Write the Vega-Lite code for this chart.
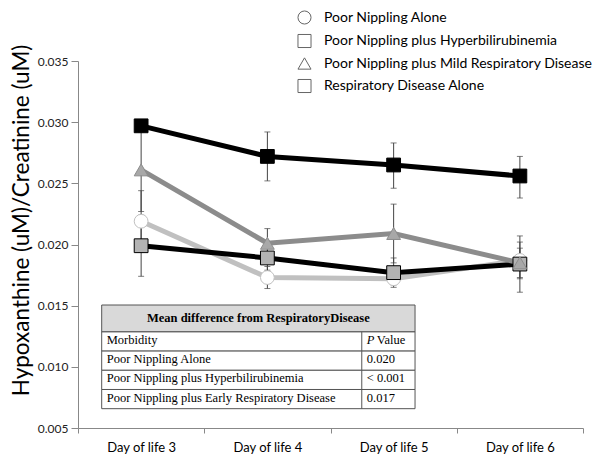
{
  "$schema": "https://vega.github.io/schema/vega-lite/v6.json",
  "autosize": "none",
  "width": 505,
  "height": 367,
  "padding": {"left": 78, "top": 61, "right": 19, "bottom": 35},
  "background": "white",
  "config": {"view": {"stroke": null}, "font": "Lato"},
  "datasets": {
    "series": [
      {"day": "Day of life 3", "group": "Poor Nippling Alone", "value": 0.0219, "lo": 0.0194, "hi": 0.0244},
      {"day": "Day of life 4", "group": "Poor Nippling Alone", "value": 0.0173, "lo": 0.0164, "hi": 0.0182},
      {"day": "Day of life 5", "group": "Poor Nippling Alone", "value": 0.0172, "lo": 0.0167, "hi": 0.0177},
      {"day": "Day of life 6", "group": "Poor Nippling Alone", "value": 0.0187, "lo": 0.0172, "hi": 0.0202},
      {"day": "Day of life 3", "group": "Poor Nippling plus Hyperbilirubinemia", "value": 0.0199, "lo": 0.0174, "hi": 0.0224},
      {"day": "Day of life 4", "group": "Poor Nippling plus Hyperbilirubinemia", "value": 0.0189, "lo": 0.0179, "hi": 0.0199},
      {"day": "Day of life 5", "group": "Poor Nippling plus Hyperbilirubinemia", "value": 0.0177, "lo": 0.0165, "hi": 0.0189},
      {"day": "Day of life 6", "group": "Poor Nippling plus Hyperbilirubinemia", "value": 0.0184, "lo": 0.0161, "hi": 0.0207},
      {"day": "Day of life 3", "group": "Poor Nippling plus Mild Respiratory Disease", "value": 0.0261, "lo": 0.0227, "hi": 0.0295},
      {"day": "Day of life 4", "group": "Poor Nippling plus Mild Respiratory Disease", "value": 0.0201, "lo": 0.0189, "hi": 0.0213},
      {"day": "Day of life 5", "group": "Poor Nippling plus Mild Respiratory Disease", "value": 0.0209, "lo": 0.0185, "hi": 0.0233},
      {"day": "Day of life 6", "group": "Poor Nippling plus Mild Respiratory Disease", "value": 0.0185, "lo": 0.0173, "hi": 0.0197},
      {"day": "Day of life 3", "group": "Respiratory Disease Alone", "value": 0.0297, "lo": 0.0292, "hi": 0.0302},
      {"day": "Day of life 4", "group": "Respiratory Disease Alone", "value": 0.0272, "lo": 0.0252, "hi": 0.0292},
      {"day": "Day of life 5", "group": "Respiratory Disease Alone", "value": 0.0265, "lo": 0.0246, "hi": 0.0283},
      {"day": "Day of life 6", "group": "Respiratory Disease Alone", "value": 0.0256, "lo": 0.0238, "hi": 0.0272}
    ],
    "tableRows": [
      {"kind": "header", "r0": 0, "r1": 1.4, "morb": "Mean difference from RespiratoryDisease", "p": ""},
      {"kind": "body", "r0": 1.4, "r1": 2.4, "morb": "Morbidity", "p": "Value"},
      {"kind": "body", "r0": 2.4, "r1": 3.4, "morb": "Poor Nippling Alone", "p": "0.020"},
      {"kind": "body", "r0": 3.4, "r1": 4.4, "morb": "Poor Nippling plus Hyperbilirubinemia", "p": "< 0.001"},
      {"kind": "body", "r0": 4.4, "r1": 5.4, "morb": "Poor Nippling plus Early Respiratory Disease", "p": "0.017"}
    ]
  },
  "layer": [
    {
      "data": {"name": "series"},
      "encoding": {
        "x": {
          "field": "day", "type": "nominal", "bandPosition": 0.5,
          "scale": {"type": "band", "paddingInner": 0, "paddingOuter": 0,
                    "domain": ["Day of life 3", "Day of life 4", "Day of life 5", "Day of life 6"]},
          "axis": {"title": null, "tickBand": "extent", "labelAngle": 0, "labelFont": "Lato", "labelFontSize": 13,
                   "labelColor": "#000", "domainColor": "#888", "tickColor": "#888", "tickSize": 5, "labelPadding": 8}
        }
      },
      "layer": [
        {
          "mark": {"type": "rule", "color": "#444", "strokeWidth": 1},
          "encoding": {
            "y": {"field": "lo", "type": "quantitative"},
            "y2": {"field": "hi"}
          }
        },
        {
          "mark": {"type": "tick", "color": "#444", "size": 6, "thickness": 1, "orient": "horizontal"},
          "encoding": {"y": {"field": "lo", "type": "quantitative"}}
        },
        {
          "mark": {"type": "tick", "color": "#444", "size": 6, "thickness": 1, "orient": "horizontal"},
          "encoding": {"y": {"field": "hi", "type": "quantitative"}}
        },
        {
          "mark": {"type": "line", "strokeWidth": 5},
          "encoding": {
            "y": {"field": "value", "type": "quantitative"},
            "stroke": {"field": "group", "type": "nominal", "legend": null,
                       "scale": {"domain": ["Poor Nippling Alone", "Poor Nippling plus Hyperbilirubinemia", "Poor Nippling plus Mild Respiratory Disease", "Respiratory Disease Alone"],
                                 "range": ["#c0c0c0", "#000000", "#8c8c8c", "#000000"]}}
          }
        },
        {
          "mark": {"type": "point", "filled": true, "size": 190, "strokeWidth": 1, "opacity": 1},
          "encoding": {
            "y": {
              "field": "value", "type": "quantitative",
              "scale": {"domain": [0.005, 0.035], "nice": false, "zero": false},
              "axis": {"title": "Hypoxanthine (uM)/Creatinine (uM)", "values": [0.005, 0.01, 0.015, 0.02, 0.025, 0.03, 0.035],
                       "format": ".3f", "grid": false, "tickSize": 7, "labelFont": "Lato", "labelFontSize": 12,
                       "labelColor": "#222", "domainColor": "#888", "tickColor": "#888", "labelPadding": 3,
                       "titleFont": "Lato", "titleFontSize": 22.5, "titleFontWeight": "normal", "titleColor": "#000",
                       "titleX": -57, "titleY": 159, "titleAngle": -90, "titleAlign": "center", "titleBaseline": "middle"}
            },
            "shape": {"field": "group", "type": "nominal",
                      "scale": {"domain": ["Poor Nippling Alone", "Poor Nippling plus Hyperbilirubinemia", "Poor Nippling plus Mild Respiratory Disease", "Respiratory Disease Alone"],
                                "range": ["circle", "square", "triangle-up", "square"]},
                      "legend": {"orient": "none", "legendX": 219, "legendY": -51, "title": null, "labelFont": "Lato",
                                 "labelFontSize": 14, "labelColor": "#000", "symbolSize": 170, "rowPadding": 4.5, "labelOffset": 12, "labelLimit": 0,
                                 "symbolStrokeWidth": 1, "symbolFillColor": "#ffffff", "symbolStrokeColor": "#666666"}},
            "fill": {"field": "group", "type": "nominal",
                     "scale": {"domain": ["Poor Nippling Alone", "Poor Nippling plus Hyperbilirubinemia", "Poor Nippling plus Mild Respiratory Disease", "Respiratory Disease Alone"],
                               "range": ["#ffffff", "#b3b3b3", "#a8a8a8", "#000000"]},
                     "legend": {"orient": "none", "legendX": 219, "legendY": -51, "title": null, "labelFont": "Lato",
                                "labelFontSize": 14, "labelColor": "#000", "symbolSize": 170, "rowPadding": 4.5, "labelOffset": 12, "labelLimit": 0,
                                "symbolStrokeWidth": 1, "symbolFillColor": "#ffffff", "symbolStrokeColor": "#666666"}},
            "stroke": {"field": "group", "type": "nominal", "legend": null}
          }
        }
      ]
    },
    {
      "data": {"name": "tableRows"},
      "layer": [
        {
          "mark": {"type": "rect", "stroke": "#555", "strokeWidth": 1},
          "encoding": {
            "x": {"datum": 0, "type": "quantitative", "scale": {"domain": [-0.0756, 1.536], "nice": false, "zero": false}, "axis": null},
            "x2": {"datum": 1},
            "y": {"field": "r0", "type": "quantitative", "scale": {"domain": [-12.71, 6.406], "nice": false, "zero": false, "reverse": true}, "axis": null},
            "y2": {"field": "r1"},
            "fill": {"field": "kind", "type": "nominal", "legend": null, "scale": {"domain": ["header", "body"], "range": ["#d9d9d9", "#ffffff"]}}
          }
        },
        {
          "transform": [{"filter": "datum.kind === 'body'"}],
          "mark": {"type": "rule", "stroke": "#555", "strokeWidth": 1},
          "encoding": {
            "x": {"datum": 0.83, "type": "quantitative"},
            "y": {"field": "r0", "type": "quantitative"},
            "y2": {"field": "r1"}
          }
        },
        {
          "transform": [{"filter": "datum.kind === 'header'"}],
          "mark": {"type": "text", "font": "Liberation Serif", "fontSize": 12.5, "fontWeight": "bold", "align": "center", "baseline": "bottom", "dy": -7, "color": "#000"},
          "encoding": {
            "x": {"datum": 0.5, "type": "quantitative"},
            "y": {"field": "r1", "type": "quantitative"},
            "text": {"field": "morb"}
          }
        },
        {
          "transform": [{"filter": "datum.kind === 'body'"}],
          "mark": {"type": "text", "font": "Liberation Serif", "fontSize": 12.5, "align": "left", "baseline": "bottom", "dx": 5, "dy": -4, "color": "#000"},
          "encoding": {
            "x": {"datum": 0, "type": "quantitative"},
            "y": {"field": "r1", "type": "quantitative"},
            "text": {"field": "morb"}
          }
        },
        {
          "transform": [{"filter": "datum.kind === 'body' && datum.morb !== 'Morbidity'"}],
          "mark": {"type": "text", "font": "Liberation Serif", "fontSize": 12.5, "align": "left", "baseline": "bottom", "dx": 5, "dy": -4, "color": "#000"},
          "encoding": {
            "x": {"datum": 0.83, "type": "quantitative"},
            "y": {"field": "r1", "type": "quantitative"},
            "text": {"field": "p"}
          }
        },
        {
          "transform": [{"filter": "datum.morb === 'Morbidity'"}],
          "mark": {"type": "text", "font": "Liberation Serif", "fontSize": 12.5, "align": "left", "baseline": "bottom", "dx": 15, "dy": -4, "color": "#000"},
          "encoding": {
            "x": {"datum": 0.83, "type": "quantitative"},
            "y": {"field": "r1", "type": "quantitative"},
            "text": {"field": "p"}
          }
        },
        {
          "transform": [{"filter": "datum.morb === 'Morbidity'"}],
          "mark": {"type": "text", "font": "Liberation Serif", "fontSize": 12.5, "fontStyle": "italic", "align": "left", "baseline": "bottom", "dx": 5, "dy": -4, "color": "#000"},
          "encoding": {
            "x": {"datum": 0.83, "type": "quantitative"},
            "y": {"field": "r1", "type": "quantitative"},
            "text": {"value": "P"}
          }
        }
      ]
    }
  ],
  "resolve": {"scale": {"x": "independent", "y": "independent", "fill": "independent", "stroke": "independent"}}
}
